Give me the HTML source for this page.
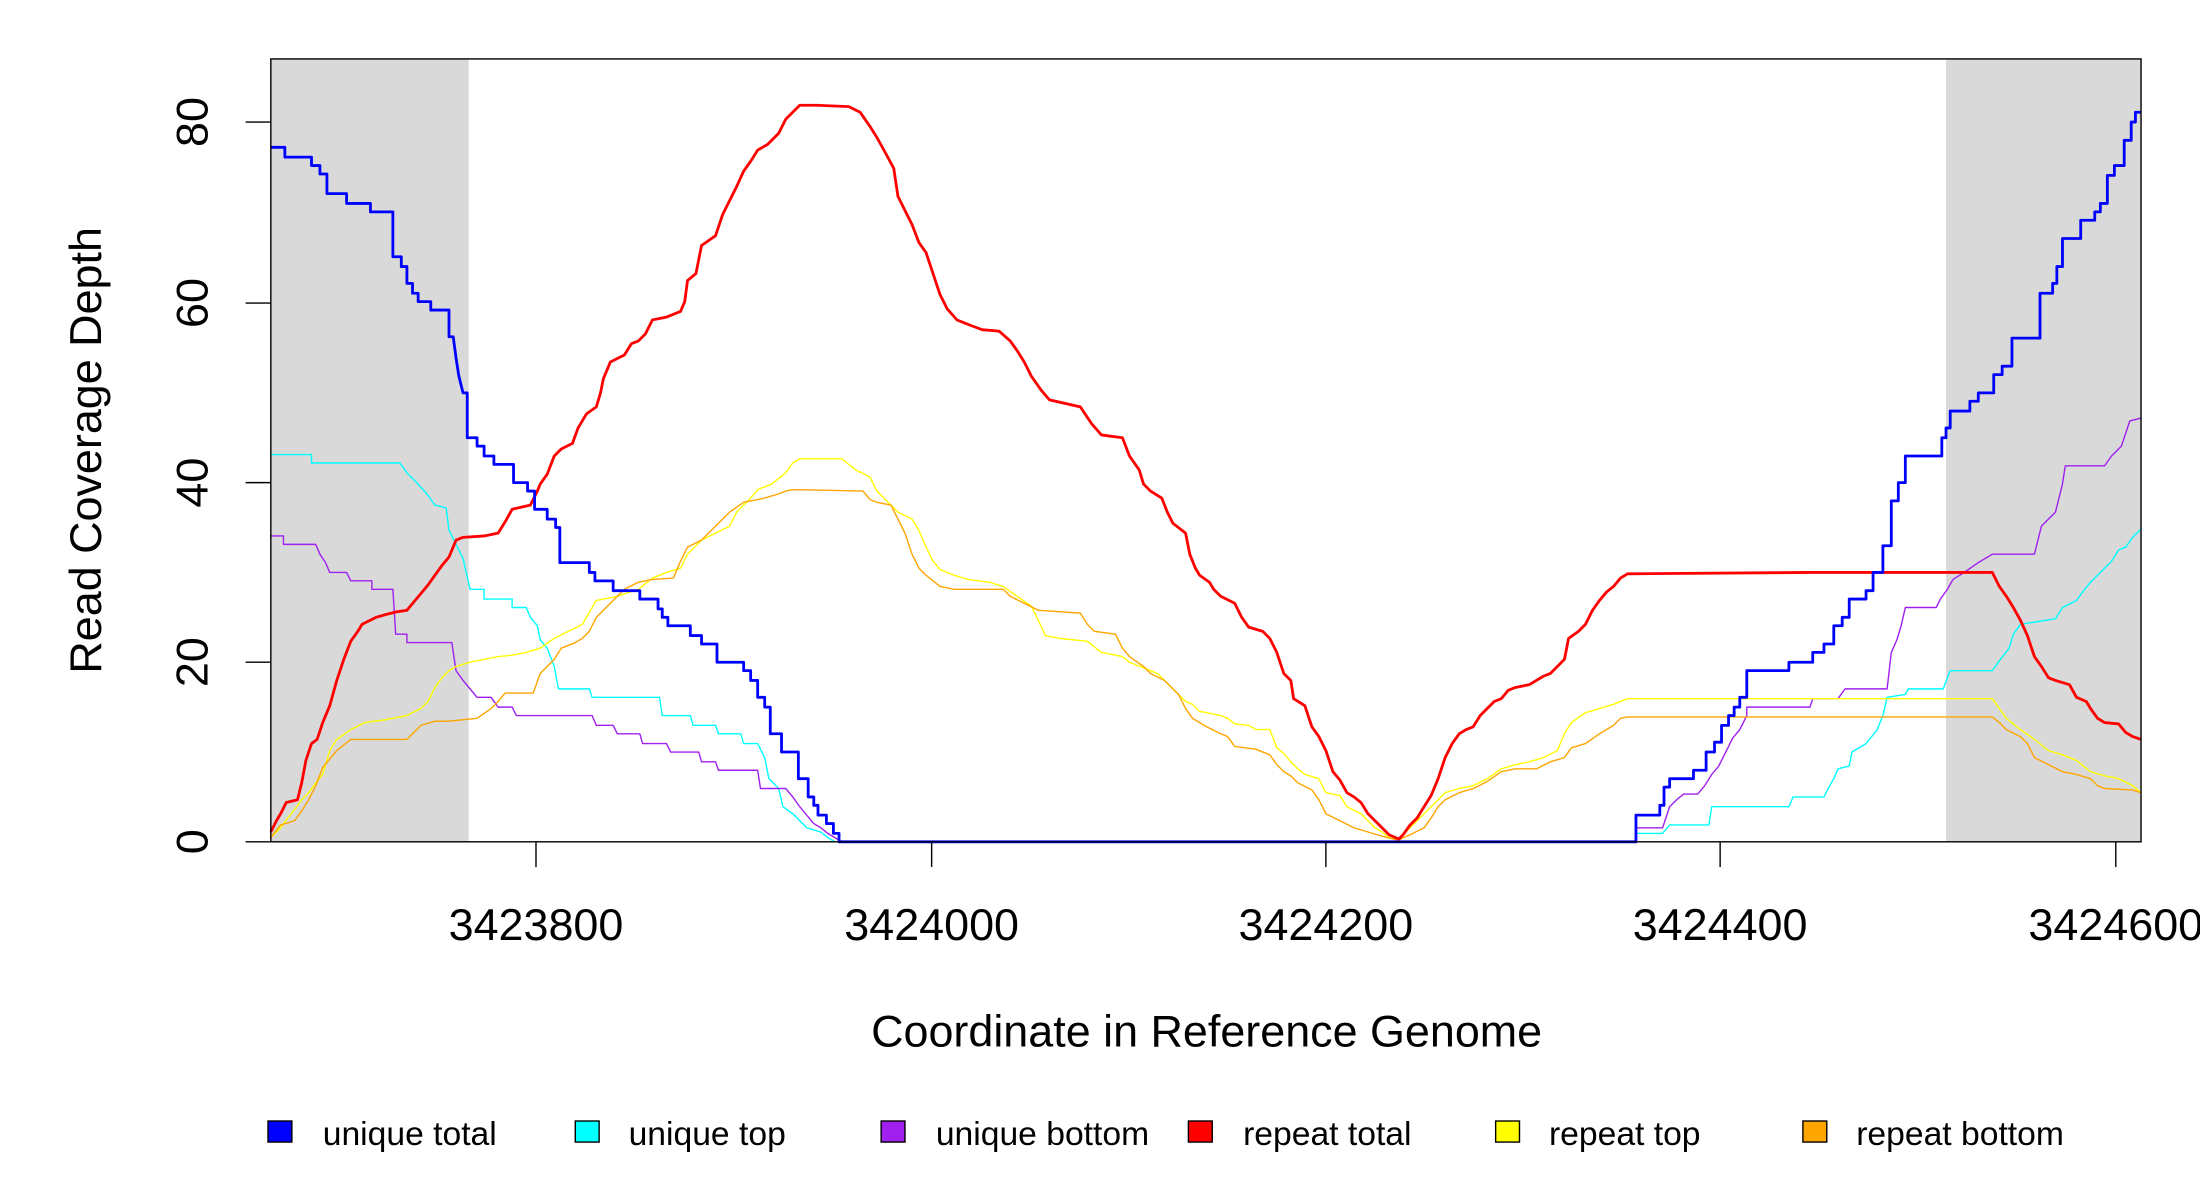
<!DOCTYPE html>
<html><head><meta charset="utf-8"><style>html,body{margin:0;padding:0;background:#fff}svg{display:block}</style></head>
<body>
<svg width="2200" height="1200" viewBox="0 0 1568 855.3" xmlns="http://www.w3.org/2000/svg" font-family="Liberation Sans, Arial, sans-serif">
<rect x="0" y="0" width="1568" height="856" fill="#fff"/>
<rect x="193" y="42" width="141" height="558" fill="#d9d9d9"/>
<rect x="1387" y="42" width="139" height="558" fill="#d9d9d9"/>
<g fill="none" stroke-linejoin="round">
<polyline stroke="#00ffff" stroke-width="1" points="193,324 222,324 222,330 285,330 290,337 297,344 305,353 310,360 318,362 320,378 325,388 330,398 335,420 345,420 345,427 365,427 365,433 375,433 378,440 383,446 385,456 390,462 395,475 398,491 420,491 422,497 470,497 472,510 492,510 494,517 510,517 512,523 528,523 530,530 540,530 545,540 548,555 555,562 558,575 565,580 570,585 575,590 585,593 590,597 595,600 1166,600 1166,594 1185,594 1190,588 1218,588 1220,575 1275,575 1278,568 1300,568 1303,562 1307,555 1310,548 1318,546 1320,536 1330,530 1338,520 1342,510 1345,497 1358,495 1360,491 1385,491 1390,478 1420,478 1425,471 1432,462 1435,452 1440,445 1465,441 1470,433 1480,428 1485,421 1490,415 1495,410 1500,405 1505,400 1510,392 1515,390 1520,383 1526,377"/>
<polyline stroke="#a020f0" stroke-width="1" points="193,382 202,382 202,388 225,388 228,395 232,401 235,408 247,408 250,414 265,414 265,420 280,420 282,452 290,452 290,458 322,458 325,478 330,485 335,491 340,497 350,497 355,504 365,504 368,510 422,510 425,517 437,517 440,523 456,523 458,530 475,530 478,536 498,536 500,543 510,543 512,549 540,549 542,562 560,562 565,568 570,575 575,581 580,587 585,590 590,594 600,600 1166,600 1166,590 1185,590 1190,575 1195,570 1200,566 1210,566 1215,560 1220,552 1225,546 1230,536 1235,526 1240,520 1245,510 1245,504 1290,504 1292,498 1310,498 1315,491 1345,491 1348,465 1352,456 1355,446 1358,433 1380,433 1383,427 1388,420 1392,413 1400,408 1410,401 1420,395 1450,395 1455,375 1465,365 1470,345 1472,332 1500,332 1505,325 1512,318 1518,300 1526,298"/>
<polyline stroke="#ffff00" stroke-width="1" points="193,597 200,590 205,583 210,577 215,570 220,565 225,558 230,552 235,535 240,527 250,520 260,515 275,513 290,510 300,505 305,500 310,490 315,483 320,478 325,475 335,472 345,470 355,468 365,467 375,465 385,462 395,455 405,450 415,445 425,428 440,425 455,420 465,412 475,408 485,405 490,395 500,385 510,380 520,375 525,365 535,355 540,349 550,345 560,337 565,330 570,327 600,327 610,335 620,340 625,350 630,355 640,365 650,370 655,378 660,390 665,400 670,406 680,410 690,413 705,415 715,418 725,425 735,432 740,442 745,453 755,455 775,457 785,465 800,468 805,472 815,476 825,480 830,485 835,490 840,495 845,500 850,502 855,507 860,508 870,510 875,512 880,516 890,517 895,520 905,520 910,533 915,537 920,543 925,548 930,552 940,555 945,565 955,567 960,575 970,580 975,585 980,590 985,593 990,597 997,598 1000,595 1005,590 1010,585 1015,580 1020,575 1025,570 1030,565 1040,562 1050,560 1060,555 1070,548 1080,545 1090,543 1100,540 1110,535 1115,523 1120,515 1130,508 1140,505 1150,502 1160,498 1420,498 1425,505 1430,512 1440,520 1450,527 1460,535 1470,538 1480,542 1490,550 1500,553 1510,555 1520,560 1526,565"/>
<polyline stroke="#ffa500" stroke-width="1" points="193,597 200,588 210,585 215,578 220,570 225,560 230,547 240,535 250,527 260,527 290,527 295,522 300,517 310,514 320,514 340,512 350,505 355,500 360,494 380,494 385,480 390,475 395,470 400,462 410,458 415,455 420,450 425,440 435,430 445,420 455,415 465,413 480,412 485,400 490,390 500,385 510,375 520,365 530,358 545,355 555,352 560,350 565,349 570,349 615,350 620,356 625,358 635,360 640,370 645,380 650,395 655,405 660,410 670,418 680,420 715,420 720,425 730,430 740,435 770,437 775,445 780,450 795,452 800,462 805,468 815,475 820,480 830,485 835,490 840,495 845,505 850,512 860,518 870,523 875,525 880,532 895,534 905,538 910,545 915,550 920,553 925,558 935,563 940,570 945,580 955,585 965,590 975,593 985,596 997,599 1000,597 1005,595 1015,590 1020,583 1025,575 1030,570 1040,565 1050,562 1060,557 1070,550 1080,548 1095,548 1105,543 1115,540 1120,533 1130,530 1140,523 1150,517 1155,512 1160,511 1420,511 1425,515 1430,520 1440,525 1445,530 1450,540 1460,545 1470,550 1480,552 1490,555 1495,560 1500,562 1520,563 1526,565"/>
<polyline stroke="#ff0000" stroke-width="2" points="193,593 197,585 200,580 204,572 212,570 215,558 218,542 222,530 226,527 230,515 235,503 240,485 245,470 250,457 255,450 258,445 262,443 268,440 275,438 283,436 290,435 295,429 300,423 305,417 310,410 315,403 320,397 325,385 330,383 345,382 355,380 360,372 365,363 378,360 383,350 385,345 390,338 395,325 400,320 408,316 412,305 418,295 425,290 428,280 430,270 435,258 445,253 450,245 455,243 460,238 465,228 475,226 485,222 488,215 490,200 496,195 500,175 510,168 515,153 520,143 525,133 530,122 535,115 540,107 547,103 555,95 560,85 565,80 570,75 582,75 605,76 613,80 620,90 625,98 630,107 637,120 640,140 645,150 650,160 655,173 660,180 665,195 670,210 675,220 682,228 692,232 700,235 712,236 720,243 725,250 730,258 735,268 742,278 748,285 770,290 778,302 785,310 800,312 805,325 812,335 815,345 820,350 828,355 832,365 836,373 845,380 848,395 852,405 855,410 862,415 865,420 870,425 880,430 885,440 890,447 900,450 905,455 910,465 915,480 920,485 922,498 930,503 935,518 940,525 945,535 950,550 955,556 960,565 965,568 970,572 975,580 980,585 985,590 990,595 997,598 1000,595 1005,588 1010,583 1015,575 1020,567 1025,555 1030,540 1035,530 1040,523 1045,520 1050,518 1055,510 1060,505 1065,500 1070,498 1075,492 1080,490 1090,488 1095,485 1100,482 1105,480 1110,475 1115,470 1118,455 1125,450 1130,445 1135,435 1140,428 1145,422 1150,418 1155,412 1160,409 1290,408 1420,408 1425,418 1430,425 1435,433 1440,442 1445,453 1450,468 1455,475 1460,483 1465,485 1475,488 1480,497 1487,500 1490,505 1495,512 1500,515 1510,516 1515,522 1520,525 1526,527"/>
<polyline stroke="#0000ff" stroke-width="2" points="193,105 203,105 203,112 222,112 222,118 228,118 228,124 233,124 233,138 247,138 247,145 264,145 264,151 280,151 280,183 286,183 286,190 290,190 290,202 294,202 294,209 298,209 298,215 307,215 307,221 320,221 320,240 323,240 325,255 327,268 330,280 333,280 333,312 340,312 340,318 345,318 345,325 352,325 352,331 366,331 366,344 376,344 376,350 381,350 381,363 390,363 390,370 396,370 396,376 399,376 399,401 420,401 420,408 424,408 424,414 437,414 437,421 456,421 456,427 469,427 469,434 472,434 472,440 476,440 476,446 492,446 492,453 500,453 500,459 511,459 511,472 530,472 530,478 535,478 535,485 540,485 540,497 545,497 545,504 549,504 549,523 557,523 557,536 569,536 569,555 576,555 576,568 580,568 580,574 583,574 583,581 589,581 589,587 594,587 594,594 598,594 598,600 1166,600 1166,581 1183,581 1183,574 1186,574 1186,561 1190,561 1190,555 1207,555 1207,549 1216,549 1216,536 1222,536 1222,529 1227,529 1227,517 1232,517 1232,510 1236,510 1236,504 1240,504 1240,497 1245,497 1245,478 1275,478 1275,472 1292,472 1292,465 1300,465 1300,459 1307,459 1307,446 1313,446 1313,440 1318,440 1318,427 1330,427 1330,421 1335,421 1335,408 1342,408 1342,389 1348,389 1348,357 1353,357 1353,344 1358,344 1358,325 1384,325 1384,312 1387,312 1387,305 1390,305 1390,293 1404,293 1404,286 1410,286 1410,280 1421,280 1421,267 1427,267 1427,261 1434,261 1434,241 1454,241 1454,209 1463,209 1463,202 1466,202 1466,190 1470,190 1470,170 1483,170 1483,157 1493,157 1493,151 1497,151 1497,145 1502,145 1502,125 1507,125 1507,118 1514,118 1514,100 1519,100 1519,87 1522,87 1522,80 1526,80"/>
</g>
<rect x="193" y="42" width="1333" height="558" fill="none" stroke="#000" stroke-width="1"/>
<g stroke="#000" stroke-width="1">
<line x1="175" y1="87" x2="193" y2="87"/><line x1="175" y1="216" x2="193" y2="216"/><line x1="175" y1="344" x2="193" y2="344"/><line x1="175" y1="472" x2="193" y2="472"/><line x1="175" y1="600" x2="193" y2="600"/>
<line x1="382" y1="600" x2="382" y2="618"/><line x1="664" y1="600" x2="664" y2="618"/><line x1="945" y1="600" x2="945" y2="618"/><line x1="1226" y1="600" x2="1226" y2="618"/><line x1="1508" y1="600" x2="1508" y2="618"/>
</g>
<g font-size="32" text-anchor="middle" fill="#000">
<text transform="translate(148,87) rotate(-90)">80</text>
<text transform="translate(148,216) rotate(-90)">60</text>
<text transform="translate(148,344) rotate(-90)">40</text>
<text transform="translate(148,472) rotate(-90)">20</text>
<text transform="translate(148,600) rotate(-90)">0</text>
<text x="382" y="670">3423800</text>
<text x="664" y="670">3424000</text>
<text x="945" y="670">3424200</text>
<text x="1226" y="670">3424400</text>
<text x="1508" y="670">3424600</text>
</g>
<text x="860" y="746" font-size="32" text-anchor="middle">Coordinate in Reference Genome</text>
<text transform="translate(72,321) rotate(-90)" font-size="32" text-anchor="middle">Read Coverage Depth</text>
<g stroke="#000" stroke-width="1">
<rect x="191" y="799" width="17" height="15" fill="#0000ff"/>
<rect x="410" y="799" width="17" height="15" fill="#00ffff"/>
<rect x="628" y="799" width="17" height="15" fill="#a020f0"/>
<rect x="847" y="799" width="17" height="15" fill="#ff0000"/>
<rect x="1066" y="799" width="17" height="15" fill="#ffff00"/>
<rect x="1285" y="799" width="17" height="15" fill="#ffa500"/>
</g>
<g font-size="24" fill="#000" stroke="none">
<text x="230" y="816">unique total</text>
<text x="448" y="816">unique top</text>
<text x="667" y="816">unique bottom</text>
<text x="886" y="816">repeat total</text>
<text x="1104" y="816">repeat top</text>
<text x="1323" y="816">repeat bottom</text>
</g>
</svg>
</body></html>
